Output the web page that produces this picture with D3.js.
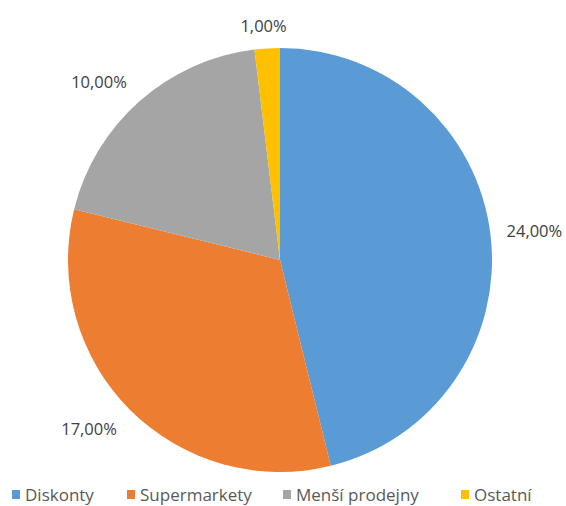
<!DOCTYPE html>
<html>
<head>
<meta charset="utf-8">
<script src="https://cdn.jsdelivr.net/npm/d3@7"></script>
<style>
  html, body { margin: 0; padding: 0; background: #ffffff; }
  svg { display: block; }
</style>
</head>
<body>
<svg id="chart" width="566" height="506"></svg>
<script>
// Share of purchases by store type
const categories = ["Diskonty", "Supermarkety", "Menší prodejny", "Ostatní"];
const values = [24, 17, 10, 1];
const valueLabels = ["24,00%", "17,00%", "10,00%", "1,00%"];
const colors = ["#5B9BD5", "#ED7D31", "#A5A5A5", "#FFC000"];

const width = 566, height = 506;
const cx = 280, cy = 260, radius = 212;

const svg = d3.select("#chart");
const font = "'Open Sans', 'Noto Sans', sans-serif";

const data = categories.map((c, i) => ({ name: c, value: values[i], label: valueLabels[i], color: colors[i] }));

const pie = d3.pie().value(d => d.value).sort(null);
const arc = d3.arc().innerRadius(0).outerRadius(radius);
const arcs = pie(data);

const g = svg.append("g").attr("transform", `translate(${cx},${cy})`);

g.selectAll("path.slice")
  .data(arcs)
  .join("path")
  .attr("class", "slice")
  .attr("d", arc)
  .attr("fill", d => d.data.color);

// Data labels sit just outside the rim, box pushed away from the pie
const gap = 10, halfW = 34, halfH = 12;
const clamp = v => Math.max(-1, Math.min(1, v));
g.selectAll("text.value")
  .data(arcs)
  .join("text")
  .attr("class", "value")
  .attr("x", d => {
    const a = (d.startAngle + d.endAngle) / 2;
    return (radius + gap) * Math.sin(a) + clamp(Math.sin(a) * 1.5) * halfW;
  })
  .attr("y", d => {
    const a = (d.startAngle + d.endAngle) / 2;
    return -(radius + gap) * Math.cos(a) - clamp(Math.cos(a) * 1.5) * halfH;
  })
  .attr("dy", "0.36em")
  .attr("text-anchor", "middle")
  .attr("font-family", font)
  .attr("font-size", 16.5)
  .attr("fill", "#404040")
  .text(d => d.data.label);

// Legend along the bottom
const legendX = [12, 127, 283, 461];
const legend = svg.append("g").attr("class", "legend");
const items = legend.selectAll("g")
  .data(data)
  .join("g")
  .attr("transform", (d, i) => `translate(${legendX[i]},0)`);

items.append("rect")
  .attr("x", 0)
  .attr("y", 490)
  .attr("width", 8)
  .attr("height", 9)
  .attr("fill", d => d.color);

items.append("text")
  .attr("x", 13)
  .attr("y", 501)
  .attr("font-family", font)
  .attr("font-size", 17)
  .attr("fill", "#595959")
  .text(d => d.name);
</script>
</body>
</html>
